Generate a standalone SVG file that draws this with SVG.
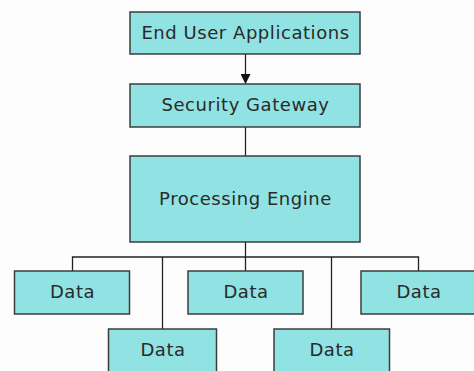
<svg xmlns="http://www.w3.org/2000/svg" width="474" height="371" viewBox="0 0 474 371">
<defs>
<style>
.box{fill:#91E2E2;stroke:#3c3c3c;stroke-width:1.5}
.lbl{font-family:"DejaVu Sans",Verdana,sans-serif;font-size:18px;letter-spacing:0.55px;fill:#2a2a2a;text-anchor:middle}
.ln{stroke:#222;stroke-width:1.3;fill:none}
</style>
<marker id="ah" markerWidth="10" markerHeight="10" refX="9" refY="5" orient="auto" markerUnits="userSpaceOnUse">
<path d="M0,0 L10,5 L0,10 z" fill="#111"/>
</marker>
</defs>
<rect width="474" height="371" fill="#fdfdfd"/>
<g id="connectors">
<line class="ln" x1="245.5" y1="54" x2="245.5" y2="83" marker-end="url(#ah)"/>
<line class="ln" x1="245.5" y1="127" x2="245.5" y2="156"/>
<line class="ln" x1="245.5" y1="242" x2="245.5" y2="271"/>
<polyline class="ln" points="72.5,271 72.5,257 418.5,257 418.5,271"/>
<line class="ln" x1="162.5" y1="257" x2="162.5" y2="329"/>
<line class="ln" x1="331.5" y1="257" x2="331.5" y2="329"/>
</g>
<g id="end-user">
<rect class="box" x="130" y="12" width="230" height="42"/>
<text class="lbl" x="245.5" y="38.5">End User Applications</text>
</g>
<g id="security-gateway">
<rect class="box" x="130" y="84" width="230" height="43"/>
<text class="lbl" x="245.5" y="110.5">Security Gateway</text>
</g>
<g id="processing-engine">
<rect class="box" x="130" y="156" width="230" height="86"/>
<text class="lbl" x="245.5" y="205">Processing Engine</text>
</g>
<g id="data1">
<rect class="box" x="14.5" y="271" width="115" height="43"/>
<text class="lbl" x="72.5" y="298">Data</text>
</g>
<g id="data2">
<rect class="box" x="188" y="271" width="115" height="43"/>
<text class="lbl" x="246" y="298">Data</text>
</g>
<g id="data3">
<rect class="box" x="361" y="271" width="116" height="43"/>
<text class="lbl" x="419" y="298">Data</text>
</g>
<g id="data4">
<rect class="box" x="108.5" y="329" width="108" height="50"/>
<text class="lbl" x="163" y="355.5">Data</text>
</g>
<g id="data5">
<rect class="box" x="274" y="329" width="115.5" height="50"/>
<text class="lbl" x="332" y="355.5">Data</text>
</g>
</svg>
